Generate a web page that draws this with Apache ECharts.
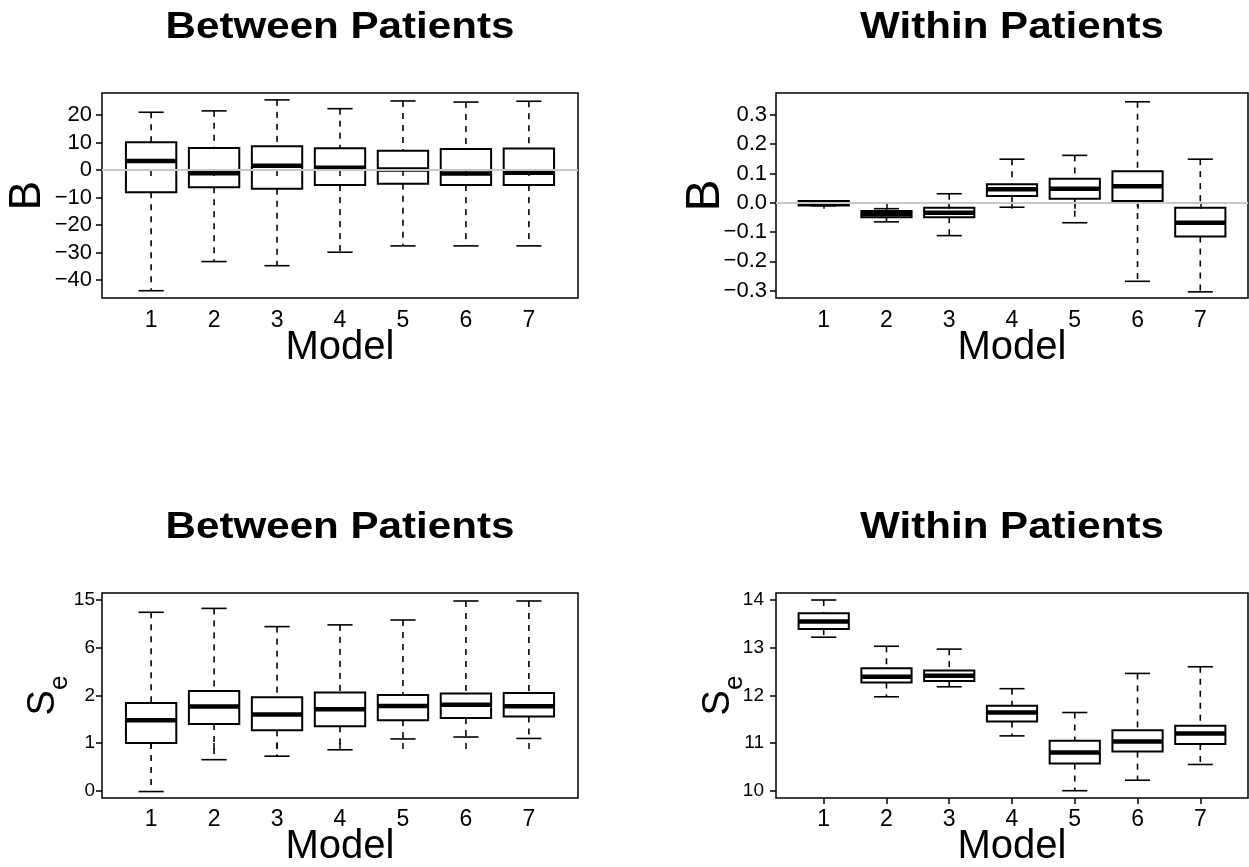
<!DOCTYPE html>
<html>
<head>
<meta charset="utf-8">
<script src="https://cdn.jsdelivr.net/npm/echarts@6/dist/echarts.min.js"></script>
<style>
  html, body { margin: 0; padding: 0; background: #fff; }
  #main { width: 1249px; height: 867px; }
</style>
</head>
<body>
<div id="main"></div>
<script>
// model numbers on the x axis
var models = [1, 2, 3, 4, 5, 6, 7];

// each row: [lower whisker, Q1, median, Q3, upper whisker]
var betweenB = [
  [-43.9, -8.1, 3.3, 10.1, 21.0],
  [-33.3, -6.3, -1.2, 8.0, 21.5],
  [-34.8, -6.8, 1.5, 8.6, 25.5],
  [-29.9, -5.5, 0.8, 7.9, 22.3],
  [-27.6, -5.0, 0.2, 7.0, 25.1],
  [-27.6, -5.5, -1.3, 7.6, 24.7],
  [-27.6, -5.5, -1.0, 7.8, 25.0]
];
var withinB = [
  [-0.010, -0.009, -0.001, 0.006, 0.007],
  [-0.065, -0.049, -0.038, -0.028, -0.020],
  [-0.112, -0.049, -0.034, -0.017, 0.031],
  [-0.015, 0.023, 0.046, 0.063, 0.149],
  [-0.068, 0.014, 0.048, 0.082, 0.162],
  [-0.268, 0.006, 0.057, 0.108, 0.345],
  [-0.304, -0.115, -0.068, -0.017, 0.149]
];
// Se between patients (plotted on a log scale)
var betweenSe = [
  [0.40, 1.00, 1.54, 2.13, 11.8],
  [0.73, 1.43, 1.99, 2.67, 12.7],
  [0.78, 1.27, 1.71, 2.37, 9.0],
  [0.88, 1.37, 1.89, 2.59, 9.3],
  [1.08, 1.54, 2.01, 2.47, 10.2],
  [1.12, 1.60, 2.06, 2.55, 14.6],
  [1.09, 1.65, 2.00, 2.57, 14.6]
];
var withinSe = [
  [13.22, 13.39, 13.55, 13.72, 14.00],
  [11.97, 12.27, 12.39, 12.57, 13.03],
  [12.18, 12.30, 12.41, 12.52, 12.97],
  [11.15, 11.45, 11.64, 11.78, 12.14],
  [10.00, 10.57, 10.80, 11.05, 11.64],
  [10.22, 10.82, 11.03, 11.27, 12.46],
  [10.55, 10.98, 11.20, 11.36, 12.60]
];

// tick values
var ticksBetweenB = [-40, -30, -20, -10, 0, 10, 20];
var ticksWithinB = [-0.3, -0.2, -0.1, 0, 0.1, 0.2, 0.3];
var ticksBetweenSeLog = [-0.9, 0, 0.9, 1.8, 2.7];   // ln(Se), labels 0 1 2 6 15
var ticksWithinSe = [10, 11, 12, 13, 14];

var FONT = 'Liberation Sans';
var minus = function (s) { return String(s).replace('-', '\u2212'); };

function boxItem(params, api) {
  var x = api.value(0);
  var lo = api.coord([x, api.value(1)]);
  var q1 = api.coord([x, api.value(2)]);
  var md = api.coord([x, api.value(3)]);
  var q3 = api.coord([x, api.value(4)]);
  var hi = api.coord([x, api.value(5)]);
  var bw = api.size([0.8, 0])[0];
  var cw = api.size([0.4, 0])[0];
  var cx = lo[0];
  var solid = { stroke: '#000', lineWidth: 1.6 };
  var dashed = { stroke: '#000', lineWidth: 1.6, lineDash: [6, 6] };
  return {
    type: 'group',
    children: [
      { type: 'line', shape: { x1: cx, y1: hi[1], x2: cx, y2: q3[1] }, style: dashed },
      { type: 'line', shape: { x1: cx, y1: q1[1], x2: cx, y2: lo[1] }, style: dashed },
      { type: 'line', shape: { x1: cx - cw / 2, y1: hi[1], x2: cx + cw / 2, y2: hi[1] }, style: solid },
      { type: 'line', shape: { x1: cx - cw / 2, y1: lo[1], x2: cx + cw / 2, y2: lo[1] }, style: solid },
      { type: 'rect', shape: { x: cx - bw / 2, y: q3[1], width: bw, height: q1[1] - q3[1] },
        style: { fill: 'none', stroke: '#000', lineWidth: 2 } },
      { type: 'line', shape: { x1: cx - bw / 2, y1: md[1], x2: cx + bw / 2, y2: md[1] },
        style: { stroke: '#000', lineWidth: 4.5 } }
    ]
  };
}

var grids = [], xAxes = [], yAxes = [], series = [];

function addPanel(p) {
  var i = grids.length;
  grids.push({
    left: p.left, top: p.top, width: p.width, height: 205, outerBoundsMode: 'none',
    show: true, borderColor: '#000', borderWidth: 1.5, backgroundColor: 'transparent'
  });
  xAxes.push({
    type: 'value', gridIndex: i, min: p.xMin, max: p.xMax,
    name: 'Model', nameLocation: 'middle', nameGap: p.nameGapX, nameMoveOverlap: false,
    nameTextStyle: { fontFamily: FONT, fontSize: 40, color: '#000' },
    axisLine: { show: false },
    splitLine: { show: false },
    axisTick: { show: true, length: 6, customValues: models, lineStyle: { color: '#000', width: 1.5 } },
    axisLabel: { customValues: models, margin: p.marginX, fontFamily: FONT, fontSize: 23, color: '#000' }
  });
  yAxes.push({
    type: 'value', gridIndex: i, min: p.yMin, max: p.yMax,
    name: p.yName, nameLocation: 'middle', nameGap: p.nameGapY, nameMoveOverlap: false,
    nameTextStyle: p.yNameStyle,
    axisLine: { show: false },
    splitLine: { show: false },
    axisTick: { show: true, length: 6, customValues: p.ticks, lineStyle: { color: '#000', width: 1.5 } },
    axisLabel: { customValues: p.ticks, formatter: p.fmt, margin: p.marginY,
      fontFamily: FONT, fontSize: p.labelSize, color: '#000' }
  });
  if (p.zeroLine) {
    series.push({
      type: 'line', xAxisIndex: i, yAxisIndex: i, data: [], z: 1,
      markLine: { silent: true, symbol: 'none', label: { show: false },
        lineStyle: { color: '#c8c8c8', width: 2, type: 'solid' }, data: [{ yAxis: 0 }] }
    });
  }
  series.push({
    type: 'custom', xAxisIndex: i, yAxisIndex: i, z: 3,
    dimensions: ['model', 'lo', 'q1', 'med', 'q3', 'hi'],
    encode: { x: 0, y: [1, 2, 3, 4, 5] },
    renderItem: boxItem,
    data: p.rows.map(function (r, k) { return [models[k]].concat(r); })
  });
}

var seName = '{s|S}{e|e}';
var seRich = {
  s: { fontFamily: FONT, fontSize: 38, lineHeight: 40, verticalAlign: 'middle', color: '#000' },
  e: { fontFamily: FONT, fontSize: 26, padding: [33, 0, 0, 0], verticalAlign: 'middle', color: '#000' }
};

addPanel({
  left: 102, top: 93, width: 476, xMin: 0.22, xMax: 7.78, nameGapX: 30, marginX: 11,
  yMin: -46.55, yMax: 28.0, ticks: ticksBetweenB, labelSize: 22, marginY: 10,
  fmt: function (v) { return minus(v); },
  yName: 'B', nameGapY: 52, yNameStyle: { fontFamily: FONT, fontSize: 44, color: '#000' },
  zeroLine: true, rows: betweenB
});
addPanel({
  left: 776, top: 93, width: 472, xMin: 0.24, xMax: 7.76, nameGapX: 30, marginX: 11,
  yMin: -0.325, yMax: 0.375, ticks: ticksWithinB, labelSize: 22, marginY: 9,
  fmt: function (v) { return minus(v.toFixed(1)); },
  yName: 'B', nameGapY: 46, yNameStyle: { fontFamily: FONT, fontSize: 48, color: '#000' },
  zeroLine: true, rows: withinB
});
addPanel({
  left: 102, top: 593, width: 476, xMin: 0.22, xMax: 7.78, nameGapX: 29, marginX: 10,
  yMin: -1.038, yMax: 2.832, ticks: ticksBetweenSeLog, labelSize: 19, marginY: 7,
  fmt: function (v) { return String(Math.round(Math.exp(v))); },
  yName: seName, nameGapY: 29, yNameStyle: { rich: seRich },
  zeroLine: false, rows: betweenSe.map(function (r) { return r.map(Math.log); })
});
addPanel({
  left: 776, top: 593, width: 472, xMin: 0.24, xMax: 7.76, nameGapX: 29, marginX: 10,
  yMin: 9.847, yMax: 14.147, ticks: ticksWithinSe, labelSize: 19, marginY: 12,
  fmt: function (v) { return String(v); },
  yName: seName, nameGapY: 28, yNameStyle: { rich: seRich },
  zeroLine: false, rows: withinSe
});

function title(txt, cx, cy) {
  return {
    type: 'text', x: cx, y: cy, scaleX: 1.17,
    style: { text: txt, font: 'bold 36px "Liberation Sans"', fill: '#000',
      textAlign: 'center', textVerticalAlign: 'middle' }
  };
}

var chart = echarts.init(document.getElementById('main'));
chart.setOption({
  animation: false,
  backgroundColor: '#fff',
  grid: grids,
  xAxis: xAxes,
  yAxis: yAxes,
  series: series,
  graphic: [
    title('Between Patients', 340, 28),
    title('Within Patients', 1012, 28),
    title('Between Patients', 340, 528),
    title('Within Patients', 1012, 528)
  ]
});
</script>
</body>
</html>
